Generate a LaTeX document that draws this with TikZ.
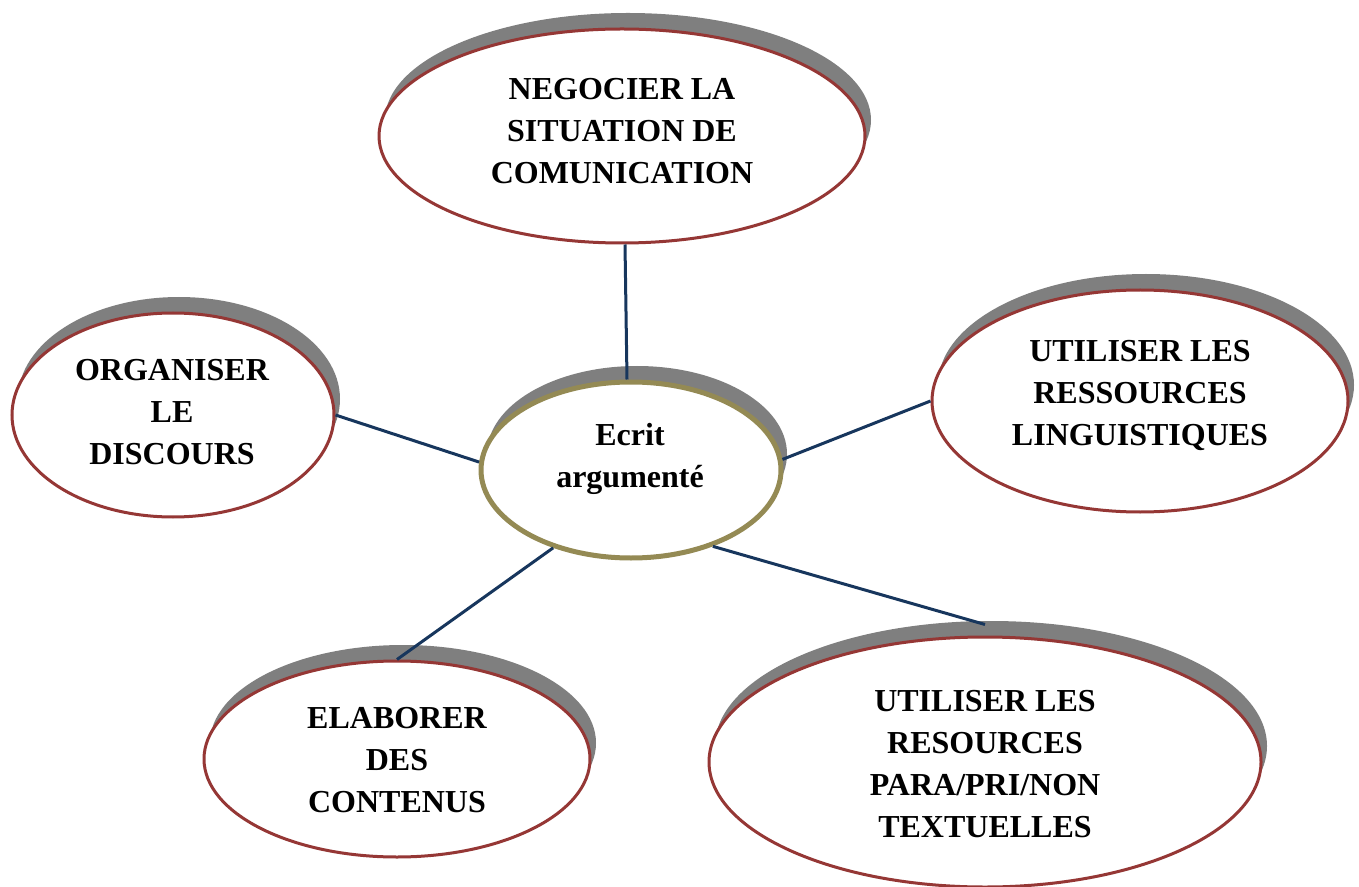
\documentclass[tikz,border=0pt]{standalone}
\usepackage{fontspec}
\setmainfont{Liberation Serif}
\usetikzlibrary{shapes.geometric,shadows}
\definecolor{rimred}{HTML}{953735}
\definecolor{rimolive}{HTML}{948A54}
\definecolor{linknavy}{HTML}{17365D}
\definecolor{shadowgray}{HTML}{7F7F7F}
\tikzset{
	bubble/.style={ellipse, draw=rimred, line width=1.5pt, fill=white, inner sep=0pt,
		drop shadow={shadow xshift=3pt, shadow yshift=8pt, fill=shadowgray, opacity=1}},
	hub/.style={bubble, draw=rimolive, line width=2.5pt},
	caption/.style={align=center, inner sep=0pt, font=\bfseries\fontsize{16}{21}\selectfont},
	link/.style={draw=linknavy, line width=1.5pt}
}

\begin{document}
\begin{tikzpicture}[x=0.5pt, y=-0.5pt]
		%%%%% START %%%%%
		\useasboundingbox (0, 0) rectangle (1359, 887);
		
		\node[bubble, minimum width=243pt, minimum height=107pt] (nego) at (622, 136) {};
		\node[caption] (negotxt) at (622, 131) {NEGOCIER LA\\SITUATION DE\\COMUNICATION};
		
		\node[bubble, minimum width=161pt, minimum height=102pt] (organ) at (173, 415) {};
		\node[caption] (organtxt) at (172, 412) {ORGANISER\\LE\\DISCOURS};
		
		\node[bubble, minimum width=208pt, minimum height=111pt] (ressling) at (1140, 401) {};
		\node[caption] (resslingtxt) at (1140, 395) {UTILISER LES\\RESSOURCES\\LINGUISTIQUES};
		
		\node[bubble, minimum width=193pt, minimum height=98pt] (elab) at (397, 759) {};
		\node[caption] (elabtxt) at (397, 760) {ELABORER\\DES\\CONTENUS};
		
		\node[bubble, minimum width=276pt, minimum height=125pt] (resstext) at (985, 762) {};
		\node[caption] (resstexttxt) at (985, 764) {UTILISER LES\\RESOURCES\\PARA/PRI/NON\\TEXTUELLES};
		
		\node[hub, minimum width=150pt, minimum height=88pt] (ecrit) at (631, 470) {};
		\node[caption] (ecrittxt) at (630, 459) {Ecrit\\argumenté};
		
		\draw[link] ([xshift=1.5pt]nego.south) -- ([xshift=-2pt]ecrit.north);
		\draw[link] (organ.east) -- (ecrit.177);
		\draw[link] (ressling.west) -- (ecrit.4);
		\draw[link] (ecrit.225) -- (elab.north);
		\draw[link] (ecrit.317) -- ([yshift=5.5pt]resstext.north);
		
		%%%%% END %%%%%
\end{tikzpicture}
\end{document}
